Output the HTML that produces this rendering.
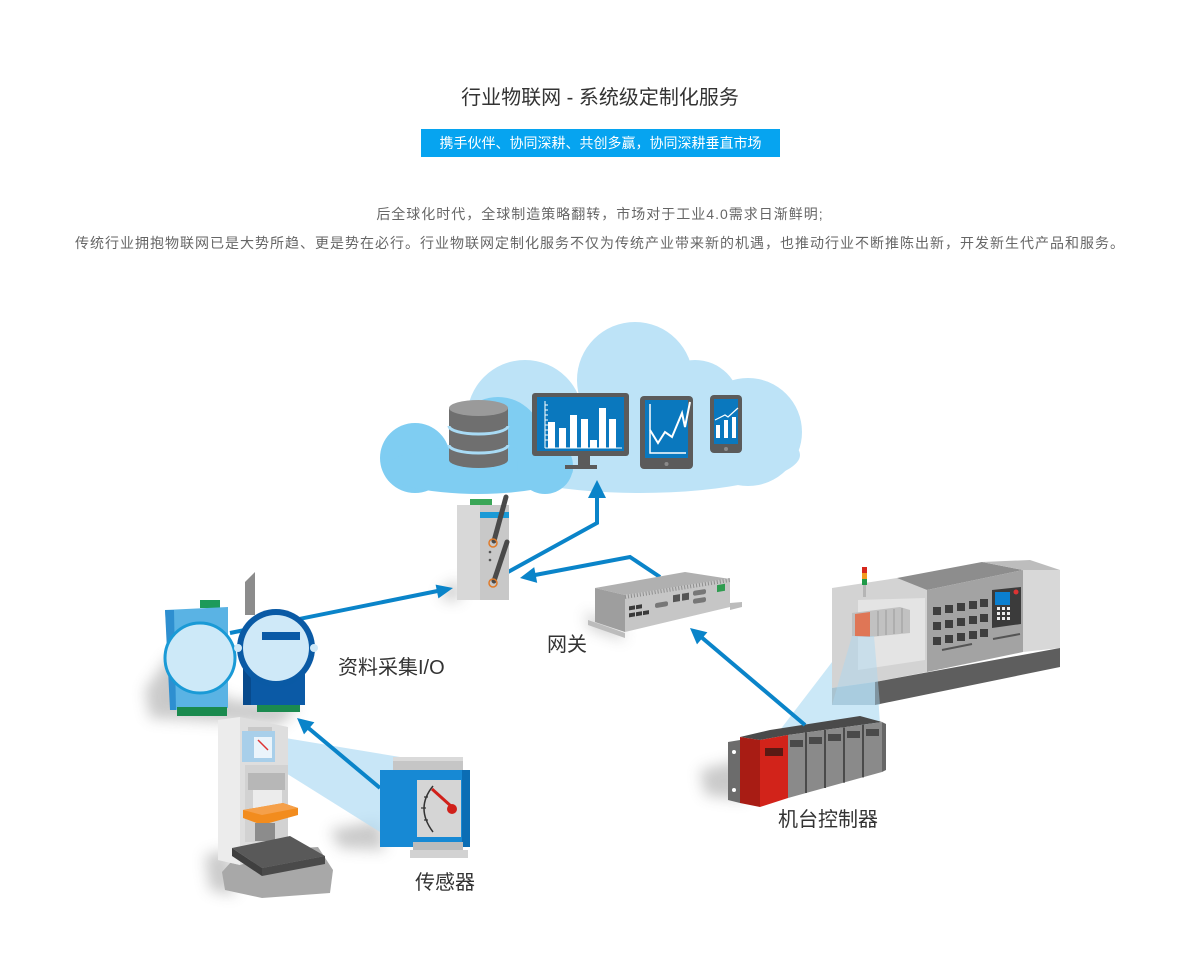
<!DOCTYPE html>
<html><head><meta charset="utf-8"><style>
html,body{margin:0;padding:0;background:#fff}
body{width:1200px;height:977px;position:relative;overflow:hidden;font-family:"Liberation Sans","Noto Sans CJK SC",sans-serif}
.t{position:absolute;white-space:nowrap;font-family:"Liberation Sans","Noto Sans CJK SC",sans-serif}
svg{position:absolute;left:0;top:0}
</style></head><body>
<svg width="1200" height="977" viewBox="0 0 1200 977" xmlns="http://www.w3.org/2000/svg">
<defs><filter id="bl" x="-50%" y="-50%" width="200%" height="200%"><feGaussianBlur stdDeviation="7"/></filter></defs>
<!-- shadows -->
<g filter="url(#bl)" fill="#8a8a8a" opacity="0.45">
<polygon points="145,690 170,655 230,700 300,705 280,725 150,718"/>
<polygon points="585,612 620,628 625,640 590,628"/>
<polygon points="700,770 740,760 745,800 705,795"/>
<polygon points="330,830 380,820 385,850 340,848"/>
<polygon points="205,855 230,850 235,895 210,890"/>
<polygon points="440,590 460,580 460,600 445,600"/>
</g>
<!-- cloud light -->
<g fill="#bde3f7">
<circle cx="635" cy="380" r="58"/>
<circle cx="525" cy="418" r="58"/>
<circle cx="748" cy="432" r="54"/>
<circle cx="695" cy="405" r="45"/>
<ellipse cx="640" cy="455" rx="160" ry="38"/>
</g>
<!-- cloud dark -->
<g fill="#7fcdf2">
<circle cx="498" cy="442" r="45"/>
<circle cx="415" cy="458" r="35"/>
<ellipse cx="478" cy="470" rx="95" ry="24"/>
<circle cx="545" cy="466" r="28"/>
</g>
<!-- database -->
<rect x="449" y="408" width="59" height="52" fill="#6f6f6f"/>
<ellipse cx="478.5" cy="460" rx="29.5" ry="8" fill="#6f6f6f"/>
<ellipse cx="478.5" cy="408" rx="29.5" ry="8" fill="#9a9a9a"/>
<path d="M449,426 A29.5,8 0 0 0 508,426" stroke="#a8dbf5" stroke-width="3" fill="none"/>
<path d="M449,445 A29.5,8 0 0 0 508,445" stroke="#a8dbf5" stroke-width="3" fill="none"/>
<!-- monitor -->
<rect x="532" y="393" width="97" height="63" rx="3" fill="#5b5b5b"/>
<rect x="537" y="397" width="87" height="54" fill="#0a78be"/>
<rect x="578" y="456" width="12" height="10" fill="#5b5b5b"/>
<rect x="565" y="465" width="32" height="4" fill="#5b5b5b"/>
<g stroke="#fff" stroke-width="1"><line x1="545" y1="401" x2="545" y2="448"/><line x1="545" y1="448" x2="622" y2="448"/>
<line x1="545" y1="405" x2="548" y2="405"/><line x1="545" y1="410" x2="548" y2="410"/><line x1="545" y1="415" x2="548" y2="415"/><line x1="545" y1="420" x2="548" y2="420"/><line x1="545" y1="425" x2="548" y2="425"/><line x1="545" y1="430" x2="548" y2="430"/><line x1="545" y1="435" x2="548" y2="435"/><line x1="545" y1="440" x2="548" y2="440"/></g>
<g fill="#fff"><rect x="548" y="422" width="7" height="26"/><rect x="559" y="428" width="7" height="20"/><rect x="570" y="415" width="7" height="33"/><rect x="581" y="419" width="7" height="29"/><rect x="590" y="440" width="7" height="8"/><rect x="599" y="408" width="7" height="40"/><rect x="609" y="419" width="7" height="29"/></g>
<!-- tablet -->
<rect x="640" y="396" width="53" height="73" rx="4" fill="#5b5b5b"/>
<rect x="645" y="400" width="43" height="58" fill="#0a78be"/>
<circle cx="666.5" cy="464" r="2" fill="#8a8a8a"/>
<polyline points="650,404 650,453 686,453" stroke="#fff" stroke-width="1.5" fill="none"/>
<polyline points="650,430 658,443 665,432 672,437 682,413 685,427 690,402" stroke="#fff" stroke-width="2" fill="none"/>
<!-- phone -->
<rect x="710" y="395" width="32" height="58" rx="4" fill="#5b5b5b"/>
<rect x="714" y="399" width="24" height="45" fill="#0a78be"/>
<circle cx="726" cy="449" r="2" fill="#8a8a8a"/>
<g fill="#fff"><rect x="716" y="425" width="4" height="13"/><rect x="724" y="420" width="4" height="18"/><rect x="732" y="417" width="4" height="21"/></g>
<polyline points="715,420 725,415 728,417 738,408" stroke="#fff" stroke-width="1.2" fill="none"/>

<!-- beams -->
<polygon points="255,733 400,757 455,790 380,832 265,760" fill="#b6def4" opacity="0.75"/>
<polygon points="780,730 852,636 874,636 880,724" fill="#a9d8f2" opacity="0.6"/>

<!-- right machine -->
<polygon points="832,588 897,578 927,590 927,672 875,682 832,688" fill="#d3d3d3"/>
<polygon points="858,600 925,598 925,660 858,670" fill="#e4e4e4"/>
<polygon points="897,578 982,562 1023,570 927,590" fill="#8d8d8d"/>
<polygon points="927,590 1023,570 1023,652 927,672" fill="#a3a3a3"/>
<polygon points="982,562 1030,560 1060,570 1023,570" fill="#bdbdbd"/>
<polygon points="1023,570 1060,570 1060,648 1023,652" fill="#d8d8d8"/>
<polygon points="875,682 1060,648 1060,667 875,705" fill="#5e5e5e"/>
<polygon points="832,688 875,682 875,705 832,705" fill="#a9c3d0"/>
<g fill="#3e3e3e">
<rect x="933" y="607" width="8" height="8"/><rect x="945" y="605" width="8" height="8"/><rect x="957" y="603" width="8" height="8"/><rect x="969" y="601" width="8" height="8"/><rect x="980" y="599" width="8" height="8"/>
<rect x="933" y="622" width="8" height="8"/><rect x="945" y="620" width="8" height="8"/><rect x="957" y="618" width="8" height="8"/><rect x="969" y="616" width="8" height="8"/><rect x="980" y="614" width="8" height="8"/>
<rect x="933" y="637" width="8" height="8"/><rect x="945" y="635" width="8" height="8"/><rect x="957" y="633" width="8" height="8"/><rect x="969" y="631" width="8" height="8"/><rect x="980" y="629" width="8" height="8"/>
</g>
<line x1="942" y1="650" x2="972" y2="644" stroke="#555" stroke-width="2"/>
<line x1="993" y1="639" x2="1020" y2="634" stroke="#555" stroke-width="2"/>
<polygon points="992,590 1021,587 1021,624 992,628" fill="#3b3b3b"/>
<rect x="995" y="592" width="15" height="13" fill="#0a7fd0"/>
<circle cx="1016" cy="592" r="2.5" fill="#d33"/>
<g fill="#eee"><rect x="997" y="607" width="3" height="3"/><rect x="1002" y="607" width="3" height="3"/><rect x="1007" y="607" width="3" height="3"/><rect x="997" y="612" width="3" height="3"/><rect x="1002" y="612" width="3" height="3"/><rect x="1007" y="612" width="3" height="3"/><rect x="997" y="617" width="3" height="3"/><rect x="1002" y="617" width="3" height="3"/><rect x="1007" y="617" width="3" height="3"/></g>
<rect x="862" y="567" width="5" height="6" fill="#d6261c"/><rect x="862" y="573" width="5" height="6" fill="#f39a1e"/><rect x="862" y="579" width="5" height="6" fill="#1f9a48"/><rect x="863" y="585" width="3" height="12" fill="#b5b5b5"/>
<polygon points="852,613 900,607 910,610 910,633 870,637 852,636" fill="#bdbdbd" opacity="0.9"/>
<polygon points="855,614 870,612 870,637 855,636" fill="#df7656"/>
<g stroke="#9a9a9a" stroke-width="1"><line x1="878" y1="611" x2="878" y2="636"/><line x1="886" y1="610" x2="886" y2="635"/><line x1="894" y1="609" x2="894" y2="634"/><line x1="902" y1="608" x2="902" y2="633"/></g>
<polygon points="852,636 874,636 880,705 832,705" fill="#a9d8f2" opacity="0.45"/>

<!-- PLC controller -->
<polygon points="728,742 740,740 740,803 728,800" fill="#6c6c6c"/>
<circle cx="734" cy="752" r="2" fill="#fff"/><circle cx="734" cy="790" r="2" fill="#fff"/>
<polygon points="740,737 770,730 860,716 882,722 788,735 760,740" fill="#4a4a4a"/>
<polygon points="740,737 760,740 760,807 740,803" fill="#a81c14"/>
<polygon points="760,740 788,735 788,798 760,807" fill="#d2231a"/>
<rect x="765" y="748" width="18" height="8" fill="#5a1a14"/>
<polygon points="788,735 882,722 882,772 788,798" fill="#8a8a8a"/>
<g stroke="#4a4a4a" stroke-width="2"><line x1="806" y1="732.5" x2="806" y2="793"/><line x1="825" y1="730" x2="825" y2="788"/><line x1="844" y1="727.4" x2="844" y2="782.7"/><line x1="863" y1="724.8" x2="863" y2="777.4"/></g>
<g fill="#4a4a4a"><rect x="790" y="740" width="13" height="7"/><rect x="809" y="737" width="13" height="7"/><rect x="828" y="734" width="13" height="7"/><rect x="847" y="731" width="13" height="7"/><rect x="866" y="729" width="13" height="7"/></g>
<polygon points="882,722 886,724 886,770 882,772" fill="#666"/>

<!-- arrows -->
<g stroke="#0a84c9" stroke-width="4" fill="none" stroke-linejoin="miter">
<line x1="230" y1="633" x2="440" y2="590.5"/>
<line x1="380" y1="788" x2="306" y2="726"/>
<polyline points="508,572 597,523 597,492"/>
<polyline points="660,577 630,557 535,575"/>
<line x1="805" y1="725" x2="700" y2="636"/>
</g>
<g fill="#0a84c9">
<polygon points="453,588 435.6,584.6 438.4,598.4"/>
<polygon points="297,718 314.4,722.2 304,734.4"/>
<polygon points="597,480 588,498 606,498"/>
<polygon points="520,578 534.2,567.1 537.2,582.9"/>
<polygon points="690,628 707.4,632.2 697,644.4"/>
</g>

<!-- IO devices -->
<rect x="200" y="600" width="20" height="8" fill="#1d9a5a"/>
<polygon points="165,610 228,607 228,708 172,710" fill="#5ab3e4"/>
<polygon points="165,610 174,610 176,710 170,710" fill="#2e8fd0"/>
<ellipse cx="200" cy="658" rx="35" ry="35" fill="#cde9f8" stroke="#1a9ad6" stroke-width="3"/>
<rect x="177" y="707" width="50" height="9" fill="#1a8a4e"/>
<polygon points="245,582 255,572 255,615 245,615" fill="#8c8c8c"/>
<rect x="247" y="640" width="58" height="65" fill="#0b5aa6"/>
<rect x="243" y="640" width="8" height="65" fill="#084a8c"/>
<circle cx="276" cy="648" r="39" fill="#0a5aa5"/>
<circle cx="276" cy="648" r="33" fill="#cfe9f8"/>
<circle cx="238" cy="648" r="4" fill="#cfe9f8"/><circle cx="314" cy="648" r="4" fill="#cfe9f8"/>
<rect x="262" y="632" width="38" height="8" fill="#0b5aa6"/>
<rect x="257" y="705" width="43" height="7" fill="#1b8a4f"/>

<!-- gateway DIN device -->
<rect x="470" y="499" width="22" height="7" fill="#3aa657"/>
<rect x="457" y="505" width="52" height="95" fill="#c8c8c8"/>
<rect x="457" y="505" width="23" height="95" fill="#d8d8d8"/>
<rect x="480" y="512" width="29" height="6" fill="#1a9ad6"/>
<circle cx="490" cy="552" r="1.3" fill="#555"/><circle cx="490" cy="560" r="1.3" fill="#555"/>
<g stroke="#4a4a4a" stroke-width="5" stroke-linecap="round"><line x1="494" y1="541" x2="506" y2="497"/><line x1="494" y1="581" x2="507" y2="542"/></g>
<circle cx="493" cy="543" r="4" fill="none" stroke="#e07b2a" stroke-width="1.5"/>
<circle cx="493" cy="583" r="4" fill="none" stroke="#e07b2a" stroke-width="1.5"/>

<!-- router box (网关) -->
<polygon points="588,620 625,633 625,638 588,625" fill="#bcbcbc"/>
<polygon points="730,603 742,602 742,607 730,610" fill="#bcbcbc"/>
<polygon points="595,588 685,572 730,579 625,595" fill="#b0b0b0"/>
<polygon points="595,588 625,595 625,632 595,622" fill="#9e9e9e"/>
<polygon points="625,595 730,578 730,607 625,632" fill="#c6c6c6"/>
<line x1="625" y1="597" x2="730" y2="580" stroke="#8f8f8f" stroke-width="4" stroke-dasharray="1,2"/>
<g transform="translate(625,595) skewY(-9.2)" fill="#3a3a3a">
<rect x="4" y="12" width="6" height="4"/><rect x="11" y="12" width="6" height="4"/>
<rect x="4" y="19" width="6" height="4"/><rect x="11" y="19" width="6" height="4"/><rect x="18" y="19" width="6" height="4"/>
<rect x="30" y="13" width="13" height="5" rx="2" fill="#777"/>
<rect x="48" y="8" width="7" height="7" fill="#555"/><rect x="57" y="8" width="7" height="7" fill="#555"/>
<rect x="68" y="7" width="13" height="5" rx="2" fill="#777"/><rect x="68" y="15" width="13" height="5" rx="2" fill="#777"/>
<rect x="92" y="5" width="8" height="7" fill="#2f9c50"/>
</g>

<!-- press machine -->
<polygon points="222,872 240,852 318,847 333,870 330,893 262,898 225,890" fill="#a8a8a8"/>
<polygon points="218,720 240,717 288,727 288,850 240,865 218,860" fill="#dedede"/>
<polygon points="218,720 240,717 240,865 218,860" fill="#ececec"/>
<rect x="245" y="765" width="43" height="77" fill="#d2d2d2"/>
<rect x="248" y="727" width="24" height="4" fill="#c8c8c8"/>
<rect x="242" y="731" width="33" height="31" fill="#9fcdec" opacity="0.85"/>
<rect x="254" y="737" width="18" height="21" fill="#eaf4fb"/>
<line x1="258" y1="740" x2="268" y2="750" stroke="#d33" stroke-width="1.5"/>
<rect x="248" y="773" width="37" height="17" fill="#b7b7b7"/>
<rect x="253" y="790" width="29" height="25" fill="#ececec"/>
<polygon points="243,810 283,803 298,808 298,815 262,825 243,818" fill="#f28c1e"/>
<polygon points="243,810 283,803 298,808 262,815" fill="#f5a04a"/>
<rect x="255" y="823" width="20" height="18" fill="#8c8c8c"/>
<polygon points="232,848 290,836 325,856 262,868" fill="#595959"/>
<polygon points="232,848 262,868 262,876 232,856" fill="#3f3f3f"/>
<polygon points="262,868 325,856 325,864 262,876" fill="#4a4a4a"/>

<!-- sensor -->
<rect x="393" y="757" width="70" height="13" fill="#c6c6c6"/>
<rect x="393" y="757" width="70" height="4" fill="#dadada"/>
<rect x="380" y="770" width="90" height="77" fill="#1789d4"/>
<rect x="462" y="770" width="8" height="77" fill="#0b6db4"/>
<rect x="417" y="780" width="44" height="57" fill="#d5d5d5"/>
<path d="M433,786 Q415,808 433,832" stroke="#333" stroke-width="1.5" fill="none"/>
<g stroke="#333" stroke-width="1.2"><line x1="424" y1="797" x2="428" y2="797"/><line x1="421" y1="808" x2="426" y2="808"/><line x1="424" y1="820" x2="428" y2="820"/></g>
<line x1="432" y1="789" x2="452" y2="807" stroke="#d0201a" stroke-width="3"/>
<circle cx="452" cy="809" r="5" fill="#d0201a"/>
<rect x="413" y="842" width="50" height="9" fill="#bcbcbc"/>
<rect x="410" y="850" width="58" height="8" fill="#d2d2d2"/>
</svg>

<div class="t" style="left:0;width:1200px;text-align:center;top:86px;font-size:20px;line-height:24px;color:#333">行业物联网 - 系统级定制化服务</div>
<div class="t" style="left:421px;top:129px;width:359px;height:28px;background:#06a4f0;color:#fff;font-size:14px;line-height:28px;text-align:center">携手伙伴、协同深耕、共创多赢，协同深耕垂直市场</div>
<div class="t" style="left:0;width:1200px;text-align:center;top:204px;font-size:14px;line-height:20px;letter-spacing:1px;color:#666">后全球化时代，全球制造策略翻转，市场对于工业4.0需求日渐鲜明;</div>
<div class="t" style="left:0;width:1200px;text-align:center;top:233px;font-size:14px;line-height:20px;letter-spacing:1px;color:#666">传统行业拥抱物联网已是大势所趋、更是势在必行。行业物联网定制化服务不仅为传统产业带来新的机遇，也推动行业不断推陈出新，开发新生代产品和服务。</div>

<div class="t" style="left:338px;top:656px;font-size:20px;line-height:24px;color:#333">资料采集I/O</div>
<div class="t" style="left:547px;top:633px;font-size:20px;line-height:24px;color:#333">网关</div>
<div class="t" style="left:415px;top:871px;font-size:20px;line-height:24px;color:#333">传感器</div>
<div class="t" style="left:778px;top:808px;font-size:20px;line-height:24px;color:#333">机台控制器</div>
</body></html>
